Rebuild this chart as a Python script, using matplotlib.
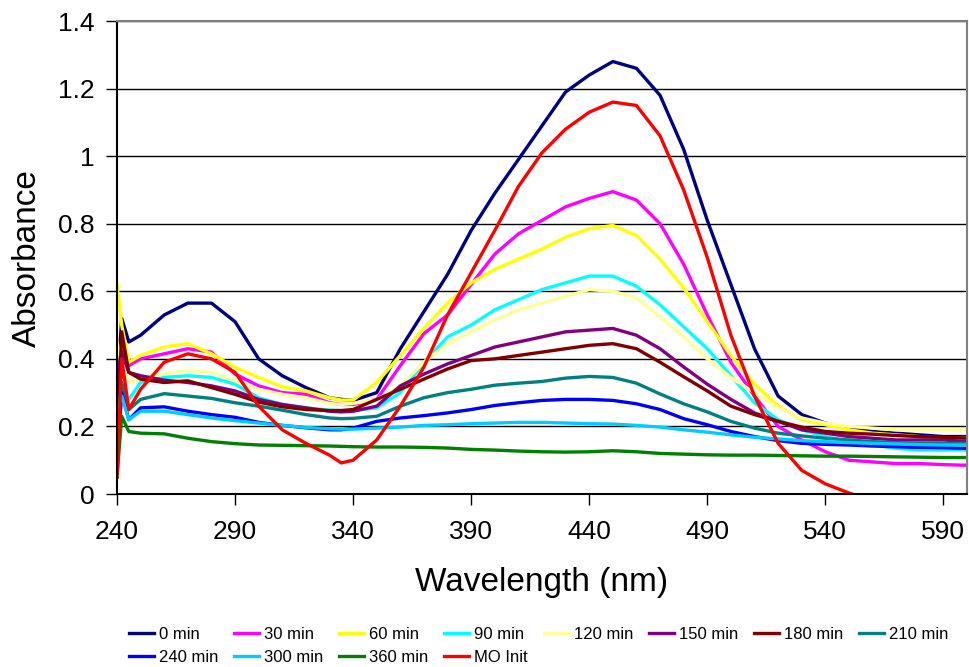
import numpy as np
import matplotlib
matplotlib.use("Agg")
import matplotlib.pyplot as plt
from matplotlib.ticker import FuncFormatter

plt.rcParams['font.family'] = ['Liberation Sans', 'DejaVu Sans']

# wavelength grid (nm) shared by all spectra
wavelength = [240, 242, 245, 250, 260, 270, 280, 290, 300, 310, 320, 330, 335, 340,
              350, 360, 370, 380, 390, 400, 410, 420, 430, 440, 450, 460, 470, 480,
              490, 500, 510, 520, 530, 540, 550, 560, 570, 580, 590, 600]

abs_0 = [0.30, 0.52, 0.45, 0.47, 0.53, 0.565, 0.565, 0.51, 0.40, 0.35, 0.315, 0.285, 0.28, 0.277,
         0.30, 0.43, 0.54, 0.65, 0.78, 0.89, 0.99, 1.09, 1.19, 1.24, 1.28, 1.26, 1.18, 1.02,
         0.81, 0.62, 0.43, 0.29, 0.235, 0.21, 0.195, 0.185, 0.18, 0.175, 0.17, 0.17]
abs_30 = [0.30, 0.45, 0.38, 0.40, 0.415, 0.43, 0.42, 0.355, 0.32, 0.30, 0.295, 0.27, 0.265, 0.265,
          0.28, 0.38, 0.475, 0.53, 0.62, 0.71, 0.77, 0.81, 0.85, 0.875, 0.895, 0.87, 0.80, 0.68,
          0.53, 0.39, 0.29, 0.20, 0.16, 0.125, 0.10, 0.095, 0.09, 0.09, 0.087, 0.085]
abs_60 = [0.62, 0.50, 0.39, 0.41, 0.435, 0.445, 0.415, 0.375, 0.345, 0.317, 0.305, 0.285, 0.278, 0.278,
          0.33, 0.41, 0.49, 0.565, 0.625, 0.665, 0.695, 0.725, 0.76, 0.785, 0.795, 0.765, 0.695, 0.61,
          0.51, 0.41, 0.325, 0.26, 0.22, 0.205, 0.19, 0.18, 0.175, 0.17, 0.165, 0.165]
abs_90 = [0.40, 0.30, 0.28, 0.33, 0.345, 0.35, 0.345, 0.325, 0.285, 0.265, 0.255, 0.248, 0.247, 0.247,
          0.255, 0.30, 0.39, 0.465, 0.50, 0.545, 0.575, 0.605, 0.625, 0.645, 0.645, 0.615, 0.56, 0.495,
          0.43, 0.35, 0.27, 0.22, 0.19, 0.17, 0.155, 0.145, 0.135, 0.13, 0.13, 0.13]
abs_120 = [0.45, 0.38, 0.33, 0.34, 0.356, 0.365, 0.36, 0.335, 0.31, 0.295, 0.285, 0.268, 0.265, 0.268,
           0.28, 0.32, 0.39, 0.445, 0.48, 0.515, 0.545, 0.565, 0.585, 0.605, 0.60, 0.58, 0.525, 0.465,
           0.40, 0.345, 0.30, 0.255, 0.225, 0.21, 0.20, 0.195, 0.19, 0.19, 0.19, 0.19]
abs_150 = [0.35, 0.42, 0.36, 0.35, 0.337, 0.33, 0.32, 0.305, 0.28, 0.265, 0.255, 0.245, 0.243, 0.245,
           0.26, 0.32, 0.355, 0.385, 0.41, 0.435, 0.45, 0.465, 0.48, 0.485, 0.49, 0.47, 0.43, 0.376,
           0.325, 0.28, 0.24, 0.215, 0.19, 0.18, 0.17, 0.165, 0.16, 0.16, 0.16, 0.155]
abs_180 = [0.15, 0.48, 0.36, 0.34, 0.33, 0.335, 0.315, 0.295, 0.272, 0.258, 0.25, 0.247, 0.247, 0.25,
           0.28, 0.31, 0.34, 0.37, 0.395, 0.40, 0.41, 0.42, 0.43, 0.44, 0.445, 0.43, 0.39, 0.347,
           0.305, 0.26, 0.235, 0.215, 0.198, 0.185, 0.18, 0.177, 0.173, 0.17, 0.168, 0.165]
abs_210 = [0.20, 0.33, 0.25, 0.28, 0.297, 0.29, 0.283, 0.27, 0.26, 0.248, 0.235, 0.225, 0.223, 0.224,
           0.23, 0.26, 0.285, 0.30, 0.31, 0.322, 0.328, 0.333, 0.343, 0.348, 0.345, 0.328, 0.296, 0.267,
           0.243, 0.215, 0.195, 0.18, 0.172, 0.165, 0.16, 0.155, 0.152, 0.15, 0.15, 0.15]
abs_240 = [0.10, 0.30, 0.22, 0.255, 0.258, 0.245, 0.235, 0.227, 0.212, 0.203, 0.196, 0.19, 0.19, 0.195,
           0.215, 0.225, 0.232, 0.24, 0.25, 0.262, 0.27, 0.277, 0.28, 0.28, 0.277, 0.267, 0.25, 0.223,
           0.205, 0.185, 0.17, 0.158, 0.15, 0.147, 0.145, 0.142, 0.14, 0.138, 0.137, 0.135]
abs_300 = [0.25, 0.29, 0.22, 0.245, 0.245, 0.235, 0.225, 0.217, 0.21, 0.203, 0.197, 0.193, 0.192, 0.192,
           0.195, 0.198, 0.203, 0.205, 0.208, 0.21, 0.212, 0.212, 0.21, 0.208, 0.207, 0.203, 0.198, 0.19,
           0.183, 0.175, 0.168, 0.163, 0.158, 0.155, 0.152, 0.15, 0.148, 0.146, 0.145, 0.145]
abs_360 = [0.05, 0.23, 0.185, 0.18, 0.178, 0.165, 0.155, 0.149, 0.145, 0.144, 0.143, 0.142, 0.141, 0.14,
           0.139, 0.139, 0.138, 0.136, 0.132, 0.13, 0.127, 0.125, 0.124, 0.125, 0.128, 0.125, 0.12, 0.118,
           0.116, 0.115, 0.115, 0.114, 0.113, 0.112, 0.112, 0.111, 0.11, 0.109, 0.108, 0.108]
abs_mo = [0.05, 0.40, 0.25, 0.31, 0.39, 0.415, 0.40, 0.36, 0.26, 0.19, 0.15, 0.115, 0.092, 0.10,
          0.16, 0.26, 0.376, 0.53, 0.655, 0.78, 0.91, 1.01, 1.08, 1.13, 1.16, 1.15, 1.06, 0.90,
          0.70, 0.47, 0.29, 0.15, 0.07, 0.03, 0.003, -0.02, -0.03, -0.03, -0.02, -0.03]

labels = ['0 min', '30 min', '60 min', '90 min', '120 min', '150 min', '180 min',
          '210 min', '240 min', '300 min', '360 min', 'MO Init']
series = [abs_0, abs_30, abs_60, abs_90, abs_120, abs_150, abs_180,
          abs_210, abs_240, abs_300, abs_360, abs_mo]
colors = ['#000080', '#FF00FF', '#FFFF00', '#00FFFF', '#FFFF99', '#800080', '#800000',
          '#008080', '#0000FF', '#00CCFF', '#008000', '#FF0000']

fig = plt.figure(figsize=(9.69, 6.67), dpi=100)
ax = fig.add_axes([117 / 969, 1 - 494 / 667, 850 / 969, 473 / 667])

handles = []
for vals, lab, col in zip(series, labels, colors):
    h, = ax.plot(wavelength, vals, color=col, lw=2.4, label=lab)
    handles.append(h)

ax.set_xlim(240, 600)
ax.set_ylim(0, 1.4)
ax.set_xticks(np.arange(240, 600, 50))
ax.set_yticks(np.arange(0, 1.41, 0.2))
ax.yaxis.set_major_formatter(FuncFormatter(lambda v, p: f"{v:.1f}".rstrip('0').rstrip('.')))
ax.tick_params(axis='both', direction='out', length=8, width=1, labelsize=19)
ax.tick_params(axis='x', pad=11)
ax.tick_params(axis='y', pad=8)
ax.grid(axis='y', color='black', lw=1)
ax.set_axisbelow(True)

for side in ['left', 'bottom']:
    ax.spines[side].set_color('black')
    ax.spines[side].set_linewidth(1.5)
for side in ['top', 'right']:
    ax.spines[side].set_color('#808080')
    ax.spines[side].set_linewidth(1.5)

# axis titles placed where the original has them
fig.text(542 / 969, 1 - 582 / 667, 'Wavelength (nm)', fontsize=24, ha='center', va='center')
fig.text(27 / 969, 1 - 258 / 667, 'Absorbance', fontsize=24, rotation=90,
         ha='center', va='center')

# reorder so legend reads row by row like the original
order = [0, 8, 1, 9, 2, 10, 3, 11, 4, 5, 6, 7]
fig.legend([handles[i] for i in order], [labels[i] for i in order],
           ncol=8, loc='center', bbox_to_anchor=(0.556, 1 - 646 / 667),
           frameon=False, fontsize=12, handlelength=1.5, handletextpad=0.3,
           columnspacing=0.95, labelspacing=0.45, borderaxespad=0)

fig.savefig('out.png', dpi=100, facecolor='white')
